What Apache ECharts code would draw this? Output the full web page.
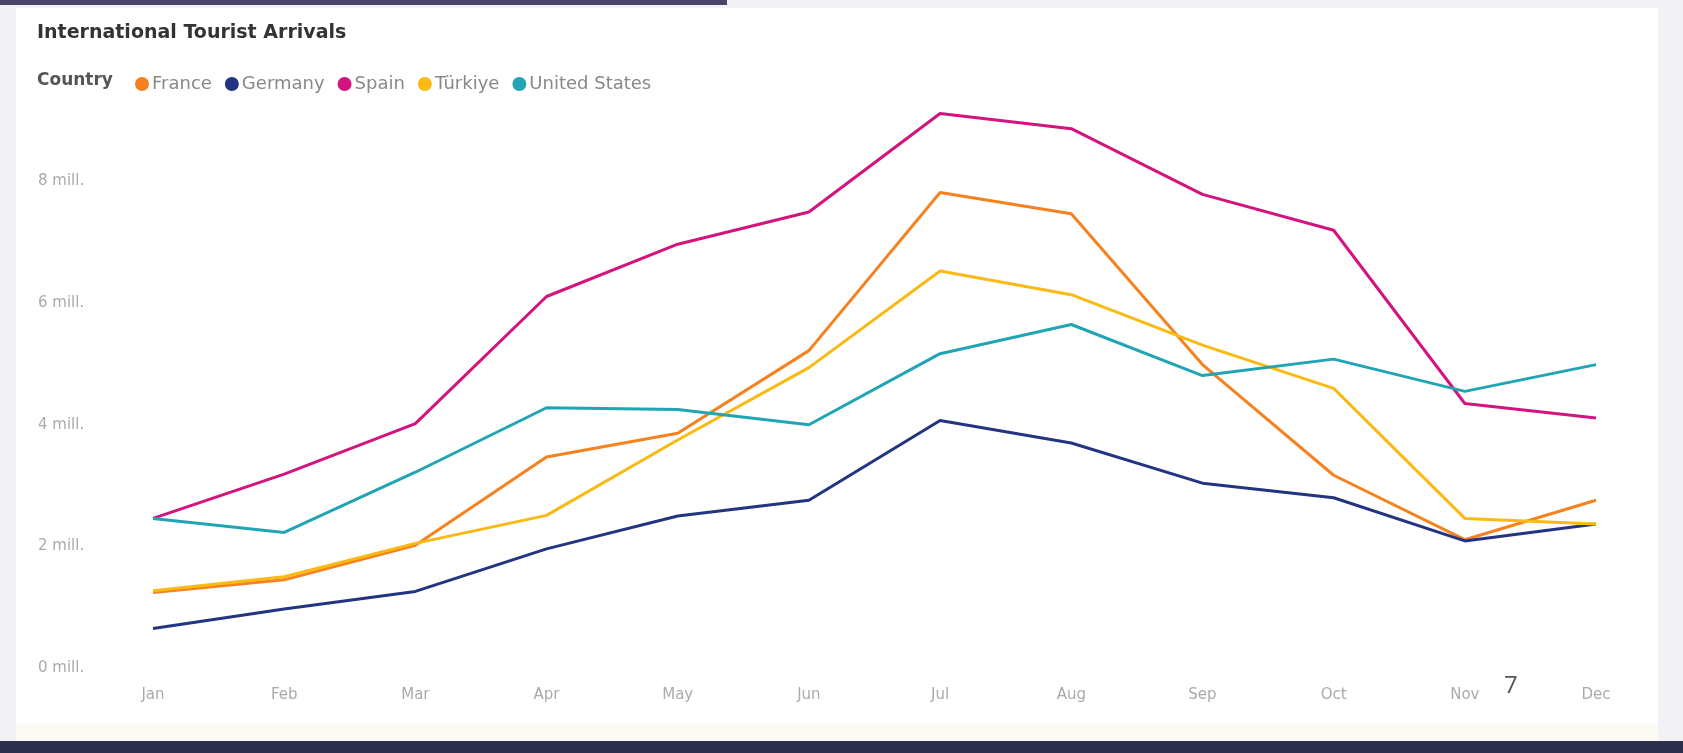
<!DOCTYPE html>
<html>
<head>
<meta charset="utf-8">
<script src="https://cdn.jsdelivr.net/npm/echarts@6/dist/echarts.min.js"></script>
<style>
html,body{margin:0;padding:0;background:#f4f4f6;}
#chart{width:1683px;height:753px;}
</style>
</head>
<body>
<div id="chart"></div>
<script>
const months = ['Jan','Feb','Mar','Apr','May','Jun','Jul','Aug','Sep','Oct','Nov','Dec'];
const france  = [1.24,1.45,2.02,3.47,3.86,5.22,7.82,7.47,4.99,3.17,2.11,2.76];
const germany = [0.65,0.97,1.26,1.96,2.50,2.76,4.07,3.70,3.04,2.80,2.09,2.37];
const spain   = [2.46,3.19,4.02,6.11,6.97,7.50,9.12,8.87,7.79,7.20,4.35,4.11];
const turkiye = [1.27,1.50,2.05,2.51,3.75,4.94,6.53,6.14,5.31,4.60,2.46,2.37];
const usa     = [2.46,2.23,3.22,4.28,4.25,4.00,5.17,5.65,4.81,5.08,4.55,4.99];
const yTicks  = [0,2,4,6,8];
const seriesNames = ['France','Germany','Spain','Türkiye','United States'];
const seriesData = [france, germany, spain, turkiye, usa];
const colors = ['#F5821F','#233580','#D3147F','#FBBA13','#21A5B5'];

const chart = echarts.init(document.getElementById('chart'));
const font = '"DejaVu Sans", "Open Sans", sans-serif';
chart.setOption({
  backgroundColor: '#f4f4f6',
  animation: false,
  color: colors,
  graphic: [
    {type:'rect', shape:{x:0,y:0,width:1683,height:753}, style:{fill:'#f2f2f4'}, z:-10},
    {type:'rect', shape:{x:16,y:8,width:1642,height:722}, style:{fill:'#ffffff'}, z:-9},
    {type:'rect', shape:{x:16,y:724,width:1642,height:17}, style:{fill:'#fbfaf3'}, z:-8},
    {type:'rect', shape:{x:0,y:0,width:727,height:5}, style:{fill:'#4b4468'}, z:-7},
    {type:'rect', shape:{x:0,y:741,width:1683,height:12}, style:{fill:'#2e2f4d'}, z:-7},
    {type:'text', left:37, top:24, style:{text:'International Tourist Arrivals', font:'bold 19px '+font, fill:'#333333'}},
    {type:'text', left:37, top:72, style:{text:'Country', font:'bold 17px '+font, fill:'#555555'}},
    {type:'text', left:1504, top:674, style:{text:'7', font:'24px "Open Sans", sans-serif', fill:'#555555'}}
  ],
  legend: {
    data: seriesNames,
    left: 130,
    top: 70,
    icon: 'circle',
    itemWidth: 14,
    itemHeight: 14,
    itemGap: 13,
    textStyle: {color:'#8a8886', fontSize:18, fontFamily:font, padding:[0,0,0,-2]}
  },
  grid: {left:153, right:87, top:60, bottom:85},
  xAxis: {
    type:'category',
    data: months,
    boundaryGap: false,
    axisLine:{show:false},
    axisTick:{show:false},
    axisLabel:{color:'#aaaaaa', fontSize:15, fontFamily:font, margin:20}
  },
  yAxis: {
    type:'value',
    min:0, max:10, interval:2,
    splitLine:{show:false},
    axisLine:{show:false},
    axisTick:{show:false},
    axisLabel:{
      color:'#aaaaaa', fontSize:15, fontFamily:font, align:'left', margin:115,
      formatter: v => (yTicks.indexOf(v) >= 0 ? v + ' mill.' : '')
    }
  },
  series: seriesNames.map((n,i) => ({
    name:n, type:'line', data:seriesData[i], symbol:'none', showSymbol:false,
    lineStyle:{width:3, color:colors[i]}, itemStyle:{color:colors[i]}
  }))
});
</script>
</body>
</html>
